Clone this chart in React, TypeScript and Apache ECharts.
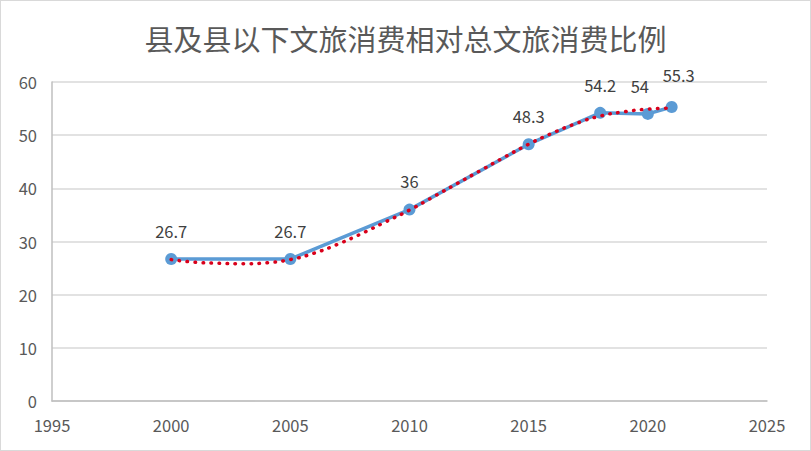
import React, { useEffect, useRef } from "react";
import * as echarts from "echarts";

const title = "县及县以下文旅消费相对总文旅消费比例";
const years = [2000, 2005, 2010, 2015, 2018, 2020, 2021];
const values = [26.7, 26.7, 36, 48.3, 54.2, 54, 55.3];
const trendYears = [2000, 2001, 2002, 2003, 2004, 2005, 2006, 2007, 2008, 2009, 2010, 2011, 2012, 2013, 2014, 2015, 2016, 2017, 2018, 2019, 2020, 2021];
const trendValues = [26.6, 26.1, 25.9, 25.8, 26.0, 26.6, 27.8, 29.5, 31.5, 33.7, 35.9, 38.4, 40.9, 43.4, 45.9, 48.3, 50.4, 52.2, 53.6, 54.4, 54.9, 55.1];
const labelOffsets: Record<number, [number, number]> = { 2020: [-8, 0], 2021: [7, -4] };

export default function App() {
  const ref = useRef<HTMLDivElement>(null);
  useEffect(() => {
    if (!ref.current) return;
    const chart = echarts.init(ref.current, undefined, { renderer: "svg" });
    const font = "'Noto Sans CJK SC', 'Noto Sans', sans-serif";
    chart.setOption({
      animation: false,
      backgroundColor: "#ffffff",
      title: {
        text: title,
        left: "center",
        top: 17,
        textStyle: { fontFamily: font, fontSize: 29, fontWeight: "normal", color: "#595959" },
      },
      grid: { left: 51, right: 43, top: 81, bottom: 49 },
      xAxis: {
        type: "value",
        min: 1995,
        max: 2025,
        interval: 5,
        axisLine: { show: true, lineStyle: { color: "#BFBFBF", width: 1.5 } },
        axisTick: { show: false },
        splitLine: { show: false },
        axisLabel: {
          color: "#595959",
          fontSize: 16.5,
          fontFamily: font,
          margin: 16,
          formatter: (v: number) => String(v),
        },
      },
      yAxis: {
        type: "value",
        min: 0,
        max: 60,
        interval: 10,
        axisLine: { show: true, lineStyle: { color: "#BFBFBF", width: 1.5 } },
        axisTick: { show: false },
        splitLine: { show: true, lineStyle: { color: "#D9D9D9", width: 1.5 } },
        axisLabel: { color: "#595959", fontSize: 16.5, fontFamily: font, margin: 15 },
      },
      series: [
        {
          type: "line",
          data: years.map((y, i) => ({
            value: [y, values[i]],
            label: labelOffsets[y] ? { offset: labelOffsets[y] } : undefined,
          })),
          symbol: "circle",
          symbolSize: 12,
          itemStyle: { color: "#5B9BD5" },
          lineStyle: { color: "#5B9BD5", width: 3.5 },
          label: {
            show: true,
            position: "top",
            distance: 14,
            color: "#404040",
            fontSize: 16.5,
            fontFamily: font,
          },
          z: 2,
        },
        {
          type: "line",
          data: trendYears.map((y, i) => [y, trendValues[i]]),
          smooth: true,
          showSymbol: false,
          symbol: "none",
          lineStyle: { color: "#D9001B", width: 3.5, type: [0.5, 7.5], cap: "round" },
          z: 3,
        },
      ],
    });
    return () => chart.dispose();
  }, []);
  return (
    <div
      style={{
        position: "fixed",
        left: 0,
        top: 0,
        width: 811,
        height: 451,
        boxSizing: "border-box",
        border: "1px solid #D9D9D9",
        background: "#fff",
      }}
    >
      <div ref={ref} style={{ width: "100%", height: "100%" }} />
    </div>
  );
}
